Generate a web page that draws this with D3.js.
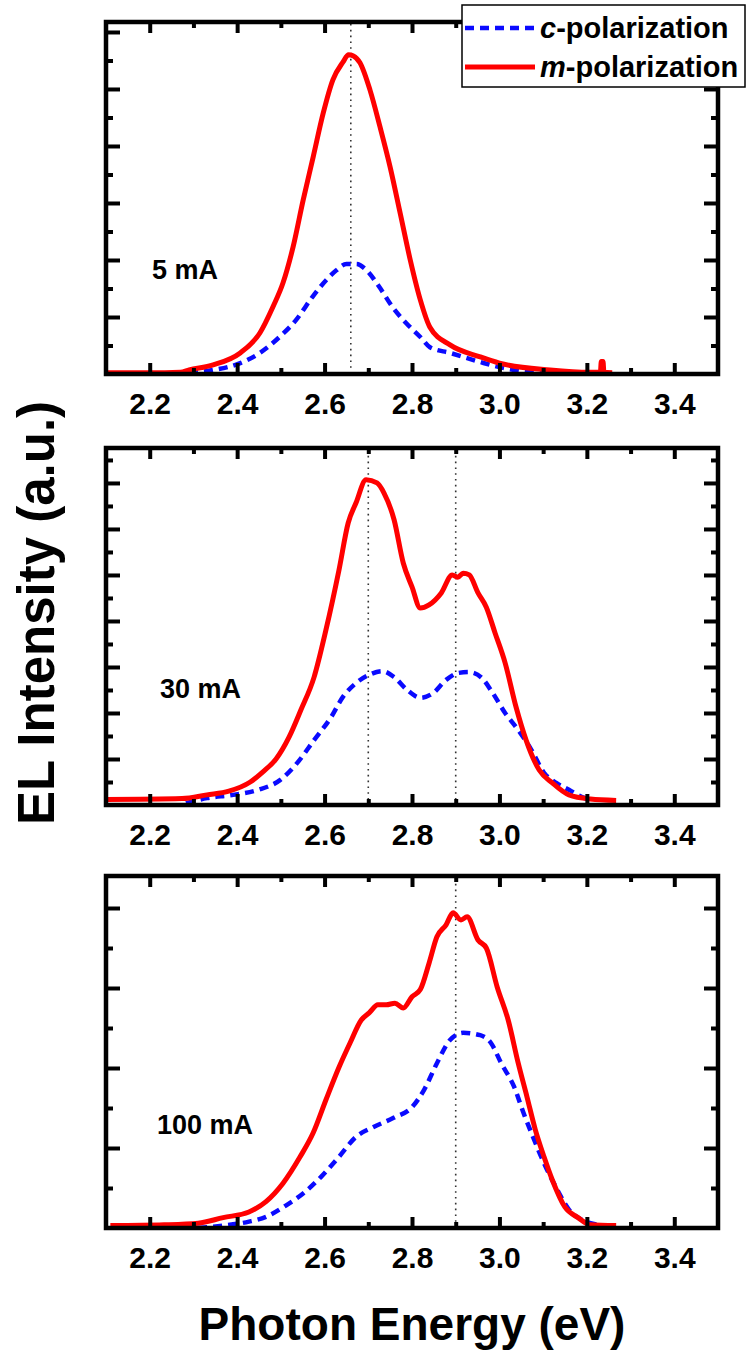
<!DOCTYPE html>
<html>
<head>
<meta charset="utf-8">
<script src="https://cdn.jsdelivr.net/npm/d3@7"></script>
<style>
  html, body { margin: 0; padding: 0; background: #fff; }
  svg { display: block; font-family: "Liberation Sans", Arial, sans-serif; }
</style>
</head>
<body>
<svg id="chart" width="746" height="1355"></svg>
<script>
// Photon energy ticks (eV)
const majorTicks = [2.2, 2.4, 2.6, 2.8, 3.0, 3.2, 3.4];
const minorTicks = [2.3, 2.5, 2.7, 2.9, 3.1, 3.3];

// Panel labels (drive current)
const currents = ["5 mA", "30 mA", "100 mA"];

// Peak guide positions (eV)
const guides5 = [2.66];
const guides30 = [2.70, 2.90];
const guides100 = [2.90];

// EL spectra, [energy eV, intensity a.u.] — 5 mA
const m5 = [[2.10,0.02],[2.20,0.02],[2.27,0.03],[2.29,0.07],[2.345,0.16],[2.407,0.37],[2.452,0.72],
  [2.482,1.18],[2.505,1.60],[2.528,2.23],[2.551,3.05],[2.574,3.81],[2.597,4.58],[2.619,5.16],
  [2.642,5.47],[2.655,5.60],[2.666,5.58],[2.681,5.46],[2.704,4.98],[2.727,4.33],[2.750,3.63],
  [2.773,2.82],[2.796,2.00],[2.819,1.30],[2.841,0.82],[2.887,0.51],[2.956,0.30],[3.00,0.19],
  [3.116,0.07],[3.207,0.03],[3.231,0.03],[3.233,0.22],[3.237,0.22],[3.239,0.03],[3.258,0.02]];
const c5 = [[2.29,0.02],[2.345,0.07],[2.407,0.19],[2.452,0.37],[2.497,0.65],[2.535,0.95],[2.572,1.35],
  [2.604,1.65],[2.627,1.82],[2.65,1.93],[2.673,1.93],[2.696,1.82],[2.725,1.53],[2.755,1.18],
  [2.787,0.89],[2.819,0.65],[2.841,0.47],[2.887,0.37],[2.956,0.21],[3.00,0.12],[3.066,0.04],[3.14,0.0]];

// 30 mA
const m30 = [[2.100,0.12],[2.274,0.14],[2.331,0.22],[2.381,0.30],[2.430,0.50],[2.459,0.72],[2.489,1.00],
  [2.519,1.48],[2.546,2.07],[2.576,2.78],[2.603,3.80],[2.633,5.11],[2.654,6.13],[2.672,6.57],
  [2.695,7.07],[2.720,7.00],[2.736,6.78],[2.759,6.20],[2.780,5.26],[2.800,4.74],[2.819,4.28],
  [2.839,4.35],[2.867,4.61],[2.892,5.00],[2.905,4.95],[2.917,5.04],[2.931,5.00],[2.951,4.61],
  [2.970,4.30],[2.990,3.74],[3.013,3.09],[3.038,2.13],[3.061,1.41],[3.091,0.76],[3.121,0.48],
  [3.159,0.22],[3.208,0.13],[3.267,0.10]];
const c30 = [[2.283,0.04],[2.331,0.15],[2.391,0.22],[2.448,0.33],[2.498,0.54],[2.537,0.91],[2.576,1.41],
  [2.615,1.91],[2.642,2.35],[2.672,2.65],[2.702,2.83],[2.732,2.91],[2.759,2.78],[2.789,2.50],
  [2.819,2.33],[2.848,2.43],[2.878,2.72],[2.906,2.87],[2.931,2.89],[2.960,2.76],[2.983,2.46],
  [3.013,2.00],[3.043,1.63],[3.073,1.20],[3.102,0.70],[3.130,0.48],[3.159,0.33],[3.189,0.17],[3.208,0.11]];

// 100 mA
const m100 = [[2.110,0.03],[2.233,0.04],[2.311,0.06],[2.368,0.13],[2.427,0.20],[2.466,0.33],[2.505,0.56],
  [2.544,0.89],[2.574,1.19],[2.603,1.60],[2.633,2.01],[2.658,2.31],[2.684,2.60],[2.702,2.69],
  [2.722,2.79],[2.741,2.79],[2.761,2.81],[2.780,2.75],[2.800,2.89],[2.819,2.98],[2.839,3.31],
  [2.857,3.64],[2.878,3.79],[2.894,3.94],[2.912,3.85],[2.926,3.89],[2.951,3.60],[2.970,3.50],
  [2.995,3.01],[3.020,2.60],[3.043,2.06],[3.063,1.64],[3.082,1.23],[3.102,0.89],[3.121,0.60],
  [3.150,0.26],[3.180,0.13],[3.208,0.04],[3.267,0.03]];
const c100 = [[2.311,0.0],[2.368,0.03],[2.427,0.08],[2.466,0.14],[2.514,0.29],[2.553,0.44],[2.592,0.64],
  [2.633,0.89],[2.672,1.14],[2.711,1.26],[2.759,1.38],[2.800,1.51],[2.828,1.73],[2.857,2.06],
  [2.887,2.35],[2.917,2.44],[2.956,2.41],[2.981,2.31],[3.004,2.06],[3.034,1.76],[3.055,1.44],
  [3.073,1.19],[3.102,0.81],[3.132,0.48],[3.159,0.23],[3.198,0.08],[3.228,0.04]];

// Legend entries
const legendNames = ["c", "m"];
const legendSuffix = "-polarization";

// ---- layout ----
const svg = d3.select("#chart");
const xLeft = 106, xRight = 718;
const panels = [
  { top: 22,  bottom: 374,  yMax: 6.175, yMajor: [1,2,3,4,5,6],   yMinor: [0.5,1.5,2.5,3.5,4.5,5.5],
    m: m5, c: c5, guides: guides5, label: currents[0], lx: 152, ly: 279 },
  { top: 448, bottom: 805,  yMax: 7.76,  yMajor: [1,2,3,4,5,6,7], yMinor: [0.5,1.5,2.5,3.5,4.5,5.5,6.5,7.5],
    m: m30, c: c30, guides: guides30, label: currents[1], lx: 160, ly: 698 },
  { top: 876, bottom: 1228, yMax: 4.4,   yMajor: [1,2,3,4],       yMinor: [0.5,1.5,2.5,3.5],
    m: m100, c: c100, guides: guides100, label: currents[2], lx: 157, ly: 1134 }
];

const x = d3.scaleLinear().domain([2.1, 3.5]).range([xLeft, xRight]);
const red = "#ff0000", blue = "#0a0aff";

panels.forEach((p, i) => {
  const y = d3.scaleLinear().domain([0, p.yMax]).range([p.bottom, p.top]);
  const g = svg.append("g");
  const clipId = "clip" + i;
  svg.append("clipPath").attr("id", clipId).append("rect")
    .attr("x", xLeft).attr("y", p.top).attr("width", xRight - xLeft).attr("height", p.bottom - p.top);

  // peak guides
  g.selectAll(".guide").data(p.guides).join("line")
    .attr("x1", d => x(d)).attr("x2", d => x(d))
    .attr("y1", p.top + 2).attr("y2", p.bottom - 6)
    .attr("stroke", "#333").attr("stroke-width", 1.6).attr("stroke-dasharray", "1.6,4.2");

  const line = d3.line().curve(d3.curveMonotoneX).x(d => x(d[0])).y(d => y(d[1]));
  const curves = g.append("g").attr("clip-path", `url(#${clipId})`);
  curves.append("path").datum(p.c).attr("d", line).attr("fill", "none")
    .attr("stroke", blue).attr("stroke-width", 4.5).attr("stroke-dasharray", "9,6");
  curves.append("path").datum(p.m).attr("d", line).attr("fill", "none")
    .attr("stroke", red).attr("stroke-width", 5).attr("stroke-linejoin", "round");

  // axes, ticks pointing inward
  const tickStyle = sel => {
    sel.select(".domain").remove();
    sel.selectAll(".tick line").attr("stroke", "#000").attr("stroke-width", 4);
  };
  const xb = g.append("g").attr("transform", `translate(0,${p.bottom})`)
    .call(d3.axisBottom(x).tickValues(majorTicks).tickSizeInner(-11).tickSizeOuter(0)
      .tickPadding(19).tickFormat(d3.format(".1f")));
  tickStyle(xb);
  xb.selectAll(".tick text").attr("font-size", 30).attr("font-weight", "bold").attr("fill", "#000");
  g.append("g").attr("transform", `translate(0,${p.bottom})`)
    .call(d3.axisBottom(x).tickValues(minorTicks).tickSizeInner(-6).tickSizeOuter(0).tickFormat(""))
    .call(tickStyle);
  g.append("g").attr("transform", `translate(0,${p.top})`)
    .call(d3.axisTop(x).tickValues(majorTicks).tickSizeInner(-11).tickSizeOuter(0).tickFormat(""))
    .call(tickStyle);
  g.append("g").attr("transform", `translate(0,${p.top})`)
    .call(d3.axisTop(x).tickValues(minorTicks).tickSizeInner(-6).tickSizeOuter(0).tickFormat(""))
    .call(tickStyle);
  [[d3.axisLeft, xLeft], [d3.axisRight, xRight]].forEach(([ax, pos]) => {
    g.append("g").attr("transform", `translate(${pos},0)`)
      .call(ax(y).tickValues(p.yMajor).tickSizeInner(-14).tickSizeOuter(0).tickFormat(""))
      .call(tickStyle);
    g.append("g").attr("transform", `translate(${pos},0)`)
      .call(ax(y).tickValues(p.yMinor).tickSizeInner(-7).tickSizeOuter(0).tickFormat(""))
      .call(tickStyle);
  });

  // frame
  g.append("rect").attr("x", xLeft).attr("y", p.top)
    .attr("width", xRight - xLeft).attr("height", p.bottom - p.top)
    .attr("fill", "none").attr("stroke", "#000").attr("stroke-width", 4.5);

  // drive current label
  g.append("text").attr("x", p.lx).attr("y", p.ly)
    .attr("font-size", 27).attr("font-weight", "bold").text(p.label);
});

// axis titles
svg.append("text").attr("x", 412).attr("y", 1340).attr("text-anchor", "middle")
  .attr("font-size", 46).attr("font-weight", "bold").text("Photon Energy (eV)");
svg.append("text").attr("transform", "translate(54,613) rotate(-90)").attr("text-anchor", "middle")
  .attr("font-size", 51).attr("font-weight", "bold").text("EL Intensity (a.u.)");

// legend
const lg = svg.append("g");
lg.append("rect").attr("x", 462).attr("y", 5).attr("width", 283).attr("height", 82)
  .attr("fill", "#fff").attr("stroke", "#000").attr("stroke-width", 1.5);
const rows = [{ name: legendNames[0], color: blue, dash: "9,6", w: 4.5, cy: 28 },
              { name: legendNames[1], color: red, dash: null, w: 5, cy: 67 }];
rows.forEach(r => {
  lg.append("line").attr("x1", 465).attr("x2", 535).attr("y1", r.cy).attr("y2", r.cy)
    .attr("stroke", r.color).attr("stroke-width", r.w).attr("stroke-dasharray", r.dash);
  const t = lg.append("text").attr("x", 540).attr("y", r.cy + 10)
    .attr("font-size", 29).attr("font-weight", "bold");
  t.append("tspan").attr("font-style", "italic").text(r.name);
  t.append("tspan").text(legendSuffix);
});
</script>
</body>
</html>
